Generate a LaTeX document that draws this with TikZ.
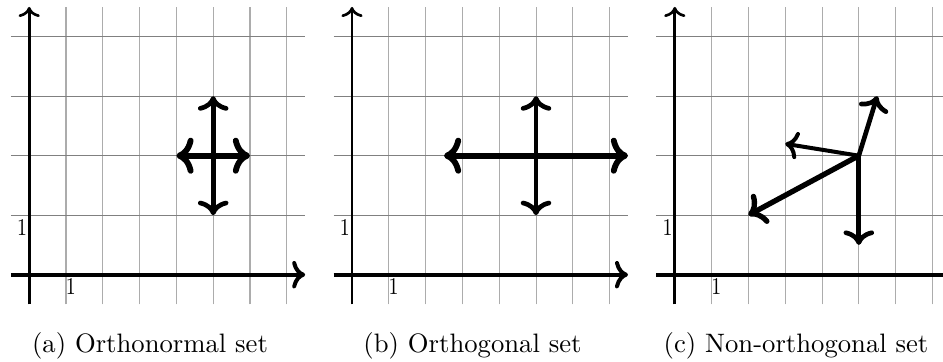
\documentclass[tikz,border=0pt]{standalone}
\usetikzlibrary{arrows.meta}
\tikzset{
  gridh/.style={draw=gray, line width=0.42pt},
  gridv/.style={draw=gray!65, line width=0.38pt},
  xaxis/.style={line width=1.5pt},
  yaxis/.style={line width=1pt, ->},
  vvec/.style={line width=1.75pt},
  hvec/.style={line width=2.2pt},
  ticklbl/.style={inner sep=0pt, xscale=0.8, font=\fontsize{9}{10}\selectfont},
  caption/.style={anchor=base, inner sep=0pt, font=\fontsize{10}{12}\selectfont},
  panel/.style={x={(13.8pt,0)}, y={(0,22.3125pt)}}
}
\newcommand{\panelgrid}[2]{%
  \foreach \i in {1,...,7} { \draw[gridv] (\i,-0.5) -- (\i,4.5); }
  \foreach \j in {1,...,4} { \draw[gridh] (-0.5,\j) -- (7.5,\j); }
  \coordinate (#1xs) at (-0.5,0);
  \coordinate (#1xe) at (7.5,0);
  \coordinate (#1ys) at (0,-0.5);
  \coordinate (#1ye) at (0,4.5);
  \draw[xaxis, #2] (#1xs) -- (#1xe);
  \draw[yaxis] (#1ys) -- (#1ye);
  \node[ticklbl] (#1ly) at (-0.196,0.785) {1};
  \node[ticklbl] (#1lx) at (1.128,-0.2) {1};
}
\begin{document}
\begin{tikzpicture}[x=0.375pt,y=0.375pt]
\useasboundingbox (0,0) rectangle (943,362);
% panel (a)
\begin{scope}[shift={(10.95pt,32.7375pt)}, panel]
  \panelgrid{a}{->}
  \coordinate (ab) at (5,1);
  \coordinate (at) at (5,3);
  \coordinate (al) at (4,2);
  \coordinate (ar) at (6,2);
  \draw[vvec, <->] (ab) -- (at);
  \draw[hvec, <->] (al) -- (ar);
\end{scope}
% panel (b)
\begin{scope}[shift={(132pt,32.7375pt)}, panel]
  \panelgrid{b}{->}
  \coordinate (bb) at (5,1);
  \coordinate (bt) at (5,3);
  \coordinate (bl) at (2.5,2);
  \coordinate (br) at (7.5,2);
  \draw[vvec, <->] (bb) -- (bt);
  \draw[hvec, <->] (bl) -- (br);
\end{scope}
% panel (c)
\begin{scope}[shift={(253.05pt,32.7375pt)}, panel]
  \panelgrid{c}{-}
  \coordinate (cc) at (5,2);
  \coordinate (cu) at (5.5,3);
  \coordinate (cl) at (3,2.2);
  \coordinate (cd) at (2,1);
  \coordinate (cb) at (5,0.5);
  \draw[line width=1.75pt, ->] (cc) -- (cu);
  \draw[line width=1.5pt, ->] (cc) -- (cl);
  \draw[line width=2pt, ->] (cc) -- (cd);
  \draw[vvec, ->] (cc) -- (cb);
\end{scope}
\node[caption] (capa) at (150,9.7) {(a) Orthonormal set};
\node[caption] (capb) at (472.5,9.7) {(b) Orthogonal set};
\node[caption] (capc) at (796,9.7) {(c) Non-orthogonal set};
\end{tikzpicture}
\end{document}
